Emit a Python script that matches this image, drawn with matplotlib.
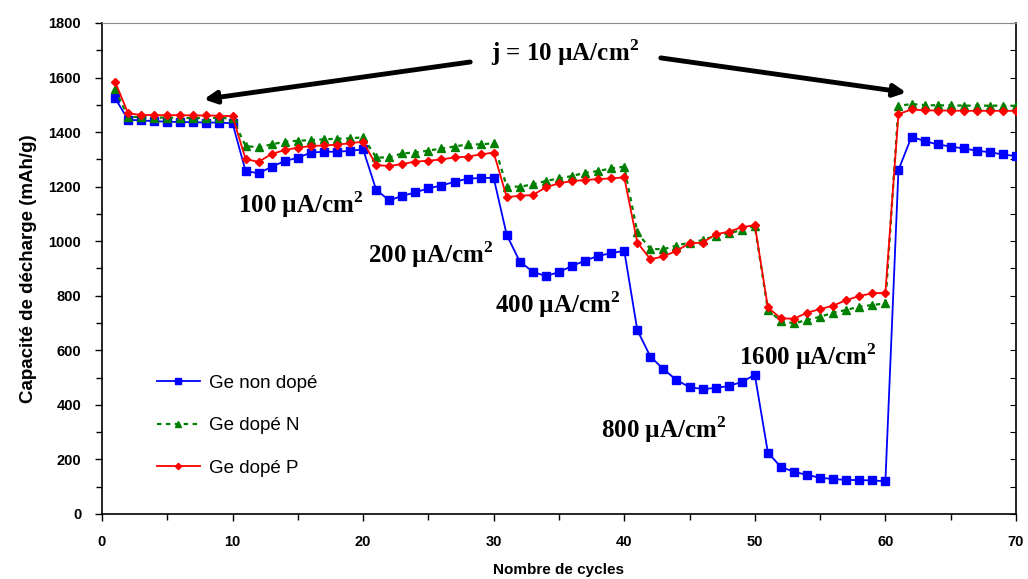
import numpy as np
import matplotlib
matplotlib.use("Agg")
import matplotlib.pyplot as plt
from matplotlib.ticker import MultipleLocator

plt.rcParams['font.family'] = ['Liberation Sans', 'DejaVu Sans']
plt.rcParams['mathtext.fontset'] = 'custom'
plt.rcParams['mathtext.rm'] = 'Liberation Serif:bold'
plt.rcParams['mathtext.bf'] = 'Liberation Serif:bold'

cycles = list(range(1, 71))

ge_non_dope = [1525,
               1445, 1443, 1440, 1438, 1437, 1436, 1435, 1435, 1432,
               1257, 1249, 1273, 1294, 1306, 1325, 1328, 1328, 1331, 1337,
               1188, 1150, 1166, 1179, 1194, 1204, 1218, 1229, 1232, 1232,
               1023, 925, 888, 872, 887, 909, 929, 946, 956, 965,
               674, 577, 531, 491, 465, 458, 462, 469, 484, 510,
               225, 172, 155, 143, 133, 128, 125, 124, 123, 120,
               1261, 1383, 1367, 1355, 1347, 1340, 1332, 1326, 1318, 1312]

ge_dope_n = [1557,
             1456, 1455, 1453, 1453, 1452, 1452, 1452, 1452, 1450,
             1349, 1344, 1355, 1365, 1368, 1371, 1373, 1376, 1377, 1381,
             1307, 1307, 1322, 1325, 1332, 1340, 1347, 1355, 1355, 1359,
             1200, 1200, 1208, 1221, 1230, 1239, 1251, 1257, 1267, 1273,
             1032, 971, 971, 984, 995, 1004, 1020, 1029, 1041, 1056,
             748, 707, 699, 711, 723, 738, 748, 760, 766, 772,
             1496, 1503, 1499, 1498, 1498, 1497, 1497, 1497, 1497, 1496]

ge_dope_p = [1585,
             1469, 1463, 1462, 1462, 1462, 1461, 1461, 1460, 1458,
             1301, 1291, 1320, 1334, 1343, 1349, 1351, 1354, 1359, 1365,
             1279, 1276, 1283, 1292, 1295, 1300, 1307, 1310, 1318, 1325,
             1161, 1167, 1169, 1198, 1212, 1221, 1224, 1228, 1230, 1234,
             995, 934, 944, 965, 992, 995, 1025, 1035, 1051, 1059,
             757, 717, 716, 738, 751, 764, 784, 799, 809, 811,
             1466, 1483, 1480, 1479, 1479, 1478, 1478, 1478, 1478, 1478]

# current density labels: (text, x, y)
labels = [("100 µA/cm$^2$", 15.2, 1133),
          ("200 µA/cm$^2$", 25.2, 949),
          ("400 µA/cm$^2$", 34.9, 766),
          ("800 µA/cm$^2$", 43.0, 308),
          ("1600 µA/cm$^2$", 54.1, 575)]

fig = plt.figure(figsize=(10.28, 5.79), dpi=100)
ax = fig.add_axes([0.0992, 0.1123, 0.8891, 0.848])

ax.plot(cycles, ge_non_dope, color='#0000FF', lw=1.3, marker='s', ms=5.5,
        label='Ge non dopé')
ax.plot(cycles, ge_dope_n, color='#008000', lw=1.6, ls=(0, (2, 2)), marker='^',
        ms=5.5, label='Ge dopé N')
ax.plot(cycles, ge_dope_p, color='#FF0000', lw=1.3, marker='D', ms=4,
        label='Ge dopé P')

ax.set_xlim(0, 70)
ax.set_ylim(0, 1800)
ax.xaxis.set_major_locator(MultipleLocator(10))
ax.xaxis.set_minor_locator(MultipleLocator(5))
ax.yaxis.set_major_locator(MultipleLocator(200))
ax.yaxis.set_minor_locator(MultipleLocator(100))
ax.tick_params(which='major', direction='out', length=5, width=1, pad=10,
               labelsize=10.5)
ax.tick_params(which='minor', direction='out', length=4, width=1)
for lab in ax.get_xticklabels() + ax.get_yticklabels():
    lab.set_fontweight('bold')

ax.spines['top'].set_color('#888888')
ax.spines['right'].set_visible(False)
ax.spines['left'].set_linewidth(1.2)
ax.spines['bottom'].set_linewidth(1.2)

sec = ax.secondary_yaxis('right')
sec.yaxis.set_major_locator(MultipleLocator(100))
sec.tick_params(direction='in', length=4, labelright=False)
sec.spines['right'].set_linewidth(1.2)

ax.set_xlabel('Nombre de cycles', fontsize=11, fontweight='bold', labelpad=10)
ax.set_ylabel('Capacité de décharge (mAh/g)', fontsize=13.5, fontweight='bold',
              labelpad=8)

serif = dict(family='Liberation Serif', weight='bold', size=18)
ax.text(35.5, 1693, 'j = 10 µA/cm$^2$', ha='center', va='center', fontdict=serif)
for txt, x, y in labels:
    ax.text(x, y, txt, ha='center', va='center', fontdict=serif)

arrow = dict(arrowstyle='-|>', lw=3.5, color='black', mutation_scale=18,
             shrinkA=0, shrinkB=0)
ax.annotate('', xy=(7.8, 1520), xytext=(28.2, 1657), arrowprops=arrow)
ax.annotate('', xy=(61.6, 1545), xytext=(42.8, 1672), arrowprops=arrow)

ax.legend(loc='center left', bbox_to_anchor=(0.06, 0.18), frameon=False,
          fontsize=13.5, borderaxespad=0, borderpad=0, handlelength=2.3,
          handletextpad=0.5, labelspacing=1.35, markerscale=0.8)

fig.savefig('out.png', dpi=100)
